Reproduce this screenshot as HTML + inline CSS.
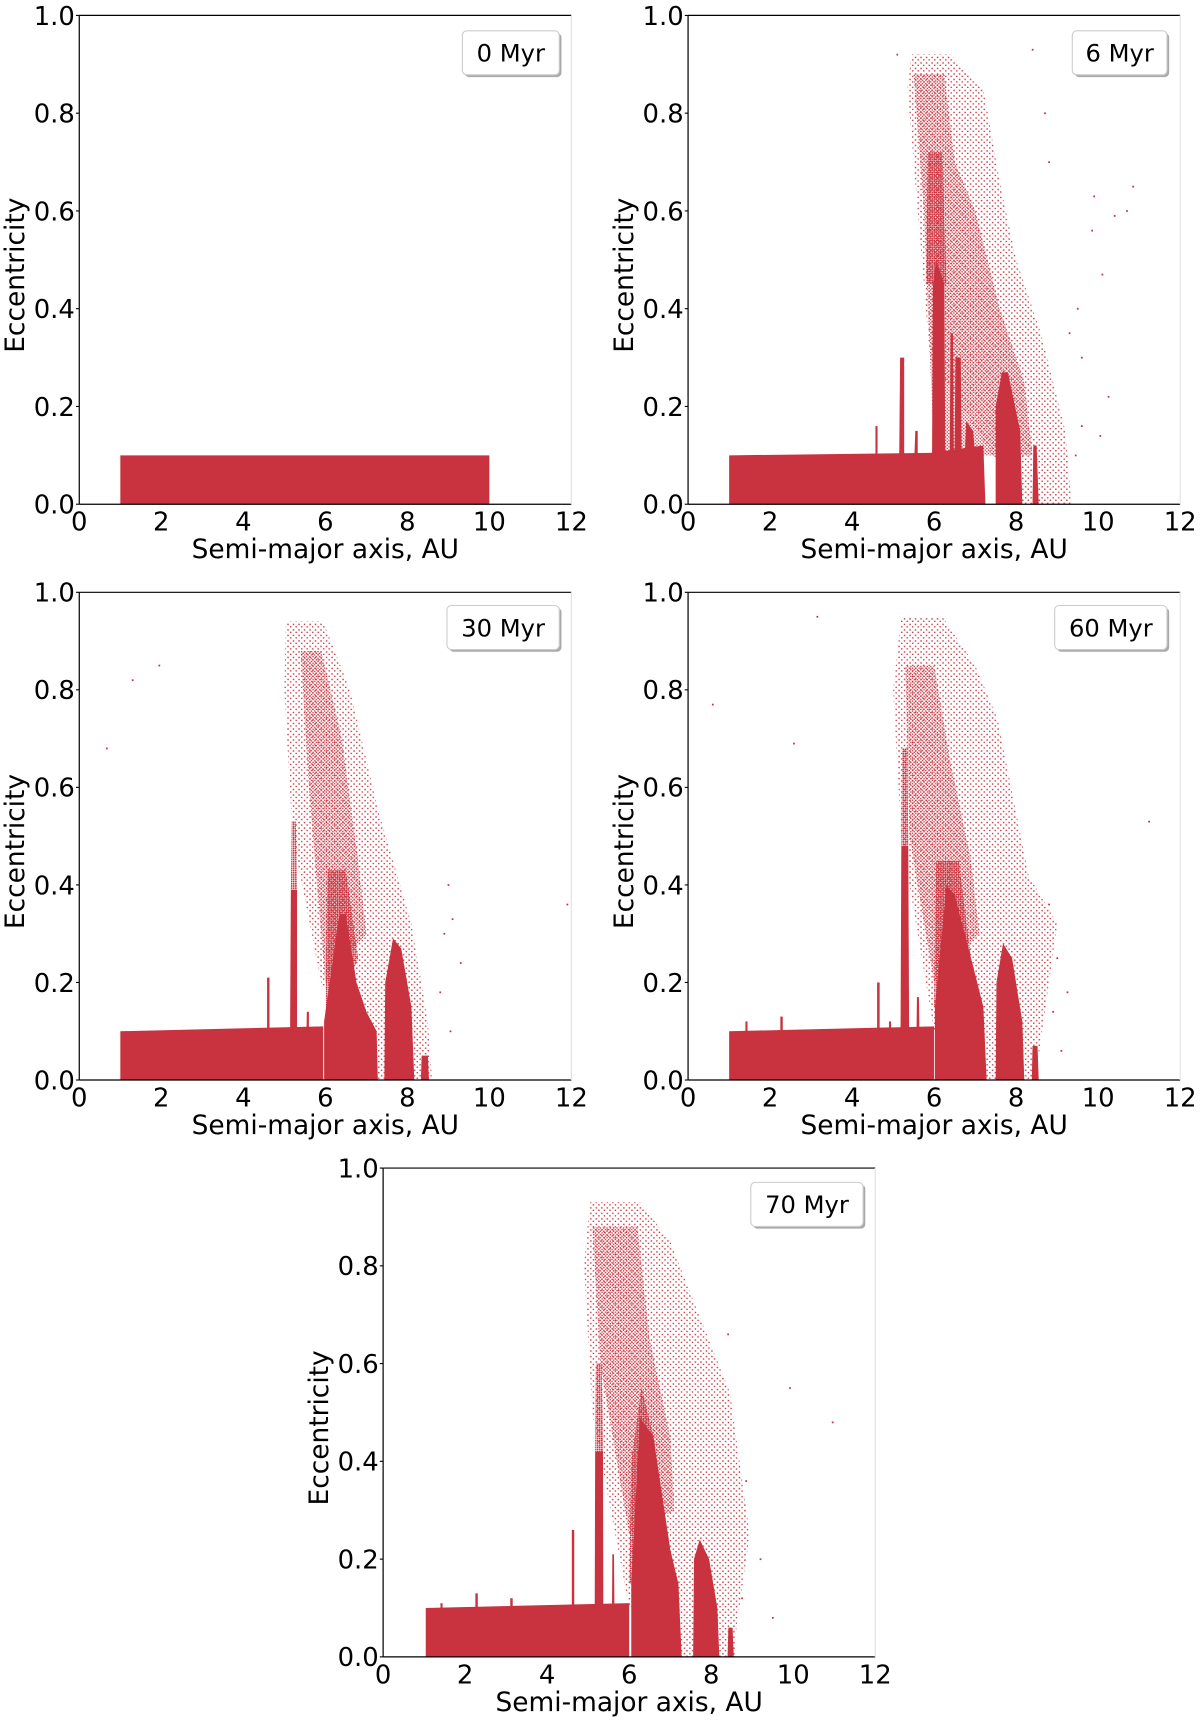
<!DOCTYPE html>
<html><head><meta charset="utf-8"><style>
html,body{margin:0;padding:0;background:#fff;}
svg{display:block;}
text{font-family:"DejaVu Sans","Liberation Sans",sans-serif;fill:#000;}
</style></head><body>
<svg id="fig" width="1200" height="1728" viewBox="0 0 1090 1569.6" xmlns="http://www.w3.org/2000/svg">
<defs>
<pattern id="pSparse" width="5" height="5" patternUnits="userSpaceOnUse"><rect x="1" y="1.5" width="1.3" height="1.3" fill="#c8333f"/><rect x="3.4" y="3.8" width="1.3" height="1.3" fill="#c8333f"/></pattern>
<pattern id="pMedium" width="3" height="3" patternUnits="userSpaceOnUse"><rect x="0.3" y="0.3" width="1.2" height="1.2" fill="#c8333f"/><rect x="1.8" y="1.8" width="1.2" height="1.2" fill="#c8333f"/></pattern>
<pattern id="pDense" width="2" height="2" patternUnits="userSpaceOnUse"><rect x="0" y="0" width="1.5" height="1.5" fill="#c8333f"/></pattern>
</defs>
</svg>
<script>
// ---------- data (a in AU, e eccentricity) ----------
const xTicks = [0,2,4,6,8,10,12];
const xTickLabels = ["0","2","4","6","8","10","12"];
const yTicks = [0,0.2,0.4,0.6,0.8,1.0];
const yTickLabels = ["0.0","0.2","0.4","0.6","0.8","1.0"];
const timeLabels = ["0 Myr","6 Myr","30 Myr","60 Myr","70 Myr"];

// 0 Myr
const p0_solid = [[[1,0],[1,0.1],[10,0.1],[10,0]]];
const p0_dense = [];
const p0_medium = [];
const p0_sparse = [];
const p0_points = [];

// 6 Myr
const p6_solid = [
 [[1,0],[1,0.1],[5.9,0.105],[7.2,0.12],[7.25,0]],
 [[4.57,0.1],[4.57,0.16],[4.62,0.16],[4.62,0.1]],
 [[5.15,0.1],[5.17,0.3],[5.27,0.3],[5.27,0.1]],
 [[5.52,0.1],[5.54,0.15],[5.6,0.15],[5.6,0.1]],
 [[5.95,0.1],[5.97,0.45],[6.05,0.5],[6.25,0.45],[6.27,0.1]],
 [[6.38,0.1],[6.4,0.35],[6.46,0.35],[6.48,0.1]],
 [[6.5,0.1],[6.52,0.3],[6.65,0.3],[6.67,0.1]],
 [[6.75,0.1],[6.78,0.17],[6.95,0.15],[7.0,0.1]],
 [[7.5,0],[7.5,0.2],[7.65,0.27],[7.8,0.27],[8.1,0.15],[8.15,0]],
 [[8.4,0],[8.42,0.12],[8.5,0.12],[8.55,0]]
];
const p6_dense = [[[5.8,0.45],[5.85,0.72],[6.2,0.72],[6.3,0.45]]];
const p6_medium = [[[5.5,0.88],[6.25,0.88],[6.5,0.7],[7.0,0.6],[7.6,0.4],[8.2,0.25],[8.4,0.1],[6.0,0.1],[5.75,0.6]]];
const p6_sparse = [[[5.45,0.92],[6.4,0.92],[7.2,0.85],[7.6,0.66],[8.0,0.5],[8.6,0.35],[9.2,0.15],[9.35,0.0],[8.2,0],[5.9,0.3],[5.6,0.6],[5.35,0.85]]];
const p6_points = [[9.9,0.63],[10.1,0.47],[10.25,0.22],[10.05,0.14],[10.4,0.59],[10.7,0.6],[10.85,0.65],[9.85,0.56],[9.6,0.16],[9.3,0.35],[9.5,0.4],[8.7,0.8],[8.8,0.7],[8.4,0.93],[5.1,0.92],[9.6,0.3],[9.45,0.1]];

// 30 Myr
const p30_solid = [
 [[1,0],[1,0.1],[5.95,0.11],[5.95,0]],
 [[4.58,0.1],[4.58,0.21],[4.64,0.21],[4.64,0.1]],
 [[5.14,0.1],[5.16,0.39],[5.31,0.39],[5.31,0.1]],
 [[5.54,0.1],[5.55,0.14],[5.6,0.14],[5.6,0.1]],
 [[5.97,0],[5.97,0.12],[6.27,0.3],[6.35,0.34],[6.5,0.34],[6.76,0.2],[7.0,0.14],[7.25,0.1],[7.28,0]],
 [[7.44,0],[7.46,0.2],[7.65,0.29],[7.85,0.27],[8.1,0.15],[8.17,0]],
 [[8.33,0],[8.35,0.05],[8.5,0.05],[8.53,0]]
];
const p30_dense = [[[5.16,0.39],[5.18,0.53],[5.28,0.53],[5.31,0.39]],[[6.0,0.12],[6.05,0.43],[6.5,0.43],[6.8,0.25],[6.2,0.12]]];
const p30_medium = [[[5.4,0.88],[5.9,0.88],[6.4,0.7],[6.8,0.45],[7.0,0.3],[6.0,0.2],[5.6,0.6]]];
const p30_sparse = [[[5.04,0.94],[5.95,0.94],[6.6,0.8],[7.3,0.55],[8.1,0.32],[8.5,0.12],[8.6,0],[7.3,0],[5.9,0.2],[5.2,0.5],[5.0,0.8]]];
const p30_points = [[0.67,0.68],[1.3,0.82],[1.95,0.85],[11.9,0.36],[9.0,0.4],[9.1,0.33],[8.9,0.3],[9.3,0.24],[8.8,0.18],[9.05,0.1]];

// 60 Myr
const p60_solid = [
 [[1,0],[1,0.1],[6.0,0.11],[6.0,0]],
 [[1.4,0.1],[1.4,0.12],[1.45,0.12],[1.45,0.1]],
 [[2.25,0.1],[2.25,0.13],[2.31,0.13],[2.31,0.1]],
 [[4.61,0.1],[4.61,0.2],[4.67,0.2],[4.67,0.1]],
 [[4.9,0.1],[4.9,0.12],[4.95,0.12],[4.95,0.1]],
 [[5.18,0.1],[5.2,0.48],[5.37,0.48],[5.39,0.1]],
 [[5.57,0.1],[5.58,0.17],[5.63,0.17],[5.64,0.1]],
 [[6.02,0],[6.02,0.15],[6.3,0.4],[6.5,0.38],[6.9,0.25],[7.2,0.15],[7.28,0]],
 [[7.5,0],[7.52,0.2],[7.68,0.28],[7.9,0.25],[8.15,0.12],[8.2,0]],
 [[8.38,0],[8.4,0.07],[8.52,0.07],[8.55,0]]
];
const p60_dense = [[[5.2,0.48],[5.22,0.68],[5.35,0.68],[5.37,0.48]],[[6.0,0.15],[6.05,0.45],[6.6,0.45],[6.9,0.25],[6.2,0.15]]];
const p60_medium = [[[5.3,0.85],[6.0,0.85],[6.4,0.65],[6.9,0.45],[7.1,0.3],[6.0,0.2],[5.4,0.5]]];
const p60_sparse = [[[5.2,0.95],[6.2,0.95],[7.0,0.85],[7.55,0.74],[8.3,0.42],[9.0,0.32],[8.55,0.05],[8.5,0],[7.3,0],[6.0,0.1],[5.2,0.5],[5.0,0.8]]];
const p60_points = [[0.6,0.77],[2.58,0.69],[3.15,0.95],[11.24,0.53],[9.0,0.25],[9.25,0.18],[8.9,0.14],[9.1,0.06],[8.8,0.36]];

// 70 Myr
const p70_solid = [
 [[1.04,0],[1.04,0.1],[6.0,0.11],[6.0,0]],
 [[1.4,0.1],[1.4,0.11],[1.45,0.11],[1.45,0.1]],
 [[2.25,0.1],[2.25,0.13],[2.31,0.13],[2.31,0.1]],
 [[3.1,0.1],[3.1,0.12],[3.16,0.12],[3.16,0.1]],
 [[4.6,0.1],[4.6,0.26],[4.66,0.26],[4.66,0.1]],
 [[5.16,0.1],[5.17,0.42],[5.36,0.42],[5.37,0.1]],
 [[5.58,0.1],[5.59,0.21],[5.63,0.21],[5.64,0.1]],
 [[6.05,0],[6.05,0.15],[6.26,0.49],[6.59,0.45],[7.0,0.22],[7.2,0.15],[7.28,0]],
 [[7.56,0],[7.58,0.2],[7.72,0.24],[7.95,0.2],[8.15,0.1],[8.2,0]],
 [[8.4,0],[8.42,0.06],[8.52,0.06],[8.55,0]]
];
const p70_dense = [[[5.17,0.42],[5.19,0.6],[5.33,0.6],[5.36,0.42]],[[6.0,0.15],[6.05,0.4],[6.3,0.55],[6.6,0.45],[6.9,0.25],[6.2,0.15]]];
const p70_medium = [[[5.1,0.88],[6.2,0.88],[6.5,0.65],[7.0,0.45],[7.1,0.3],[6.0,0.25],[5.3,0.6]]];
const p70_sparse = [[[5.04,0.93],[6.26,0.93],[7.0,0.85],[7.56,0.73],[8.46,0.54],[8.94,0.25],[8.6,0.05],[8.6,0],[7.3,0],[6.0,0.1],[5.1,0.5],[4.9,0.8]]];
const p70_points = [[9.92,0.55],[10.96,0.48],[8.41,0.66],[8.85,0.36],[9.2,0.2],[9.5,0.08],[8.75,0.12]];

// ---------- layout ----------
const layout = [
 {x0:72,x12:519,y0:458,y1:14, lx:420,lw:88,ly:28},
 {x0:625,x12:1072,y0:458,y1:14, lx:974,lw:86,ly:28},
 {x0:72,x12:519,y0:981,y1:538, lx:406,lw:102,ly:550},
 {x0:625,x12:1072,y0:981,y1:538, lx:958,lw:102,ly:550},
 {x0:348,x12:795,y0:1505,y1:1061, lx:682,lw:102,ly:1074}
];
const solids=[p0_solid,p6_solid,p30_solid,p60_solid,p70_solid];
const denses=[p0_dense,p6_dense,p30_dense,p60_dense,p70_dense];
const mediums=[p0_medium,p6_medium,p30_medium,p60_medium,p70_medium];
const sparses=[p0_sparse,p6_sparse,p30_sparse,p60_sparse,p70_sparse];
const pointsets=[p0_points,p6_points,p30_points,p60_points,p70_points];

const NS="http://www.w3.org/2000/svg";
const svg=document.getElementById('fig');
function mk(tag,attrs,parent){const el=document.createElementNS(NS,tag);for(const k in attrs)el.setAttribute(k,attrs[k]);parent.appendChild(el);return el;}

layout.forEach((L,i)=>{
 const sx=a=>L.x0+a/12*(L.x12-L.x0);
 const sy=e=>L.y0-e*(L.y0-L.y1);
 const g=mk('g',{},svg);
 
 
 const poly=(pts,fill,name)=>{const p=mk('polygon',{points:pts.map(q=>sx(q[0]).toFixed(1)+','+sy(q[1]).toFixed(1)).join(' '),fill:fill},g);
  
  };
 sparses[i].forEach(s=>poly(s,'url(#pSparse)','sparse-cloud'));
 mediums[i].forEach(s=>poly(s,'url(#pMedium)','medium-cloud'));
 denses[i].forEach(s=>poly(s,'url(#pDense)','dense-cloud'));
 solids[i].forEach(s=>poly(s,'#c8333f','dense-population'));
 pointsets[i].forEach(p=>{const r=mk('rect',{x:sx(p[0])-0.7,y:sy(p[1])-0.7,width:1.6,height:1.6,fill:'#c8333f'},g);
  
  });
 const sp=(x1,y1,x2,y2,c,n)=>{const l=mk('line',{x1,y1,x2,y2,stroke:c,'stroke-width':1.1},g);
  
  };
 sp(L.x0,L.y1,L.x12,L.y1,'#000','top-spine');
 sp(L.x0,L.y1,L.x0,L.y0,'#000','y-axis');
 sp(L.x0,L.y0,L.x12,L.y0,'#000','x-axis');
 sp(L.x12,L.y1,L.x12,L.y0,'#e4e4e4','right-spine');
 xTicks.forEach((t,k)=>{
  const tx=mk('text',{x:sx(t),y:L.y0+24,'font-size':23.5,'text-anchor':'middle'},g);tx.textContent=xTickLabels[k];
  
  });
 yTicks.forEach((t,k)=>{
  mk('line',{x1:L.x0-3,y1:sy(t),x2:L.x0,y2:sy(t),stroke:'#000','stroke-width':1},g);
  const ty=mk('text',{x:L.x0-4,y:sy(t)+8.5,'font-size':23.5,'text-anchor':'end'},g);ty.textContent=yTickLabels[k];
  
  });
 const xl=mk('text',{x:(L.x0+L.x12)/2,y:L.y0+49,'font-size':24,'text-anchor':'middle'},g);xl.textContent='Semi-major axis, AU';
 
 
 const yc=(L.y0+L.y1)/2+14;
 const yx=L.x0-50;
 const yl=mk('text',{x:yx,y:yc,'font-size':24,'text-anchor':'middle',transform:'rotate(-90 '+yx+' '+yc+')'},g);yl.textContent='Eccentricity';
 
 
 const lg=mk('g',{},g);
 
 
 mk('rect',{x:L.lx+2,y:L.ly+2,width:L.lw,height:40,rx:4,fill:'#aaa'},lg);
 mk('rect',{x:L.lx,y:L.ly,width:L.lw,height:40,rx:4,fill:'#fff',stroke:'#ccc','stroke-width':1},lg);
 const lt=mk('text',{x:L.lx+L.lw/2,y:L.ly+28,'font-size':22,'text-anchor':'middle'},lg);lt.textContent=timeLabels[i];
});
</script>
</body></html>
